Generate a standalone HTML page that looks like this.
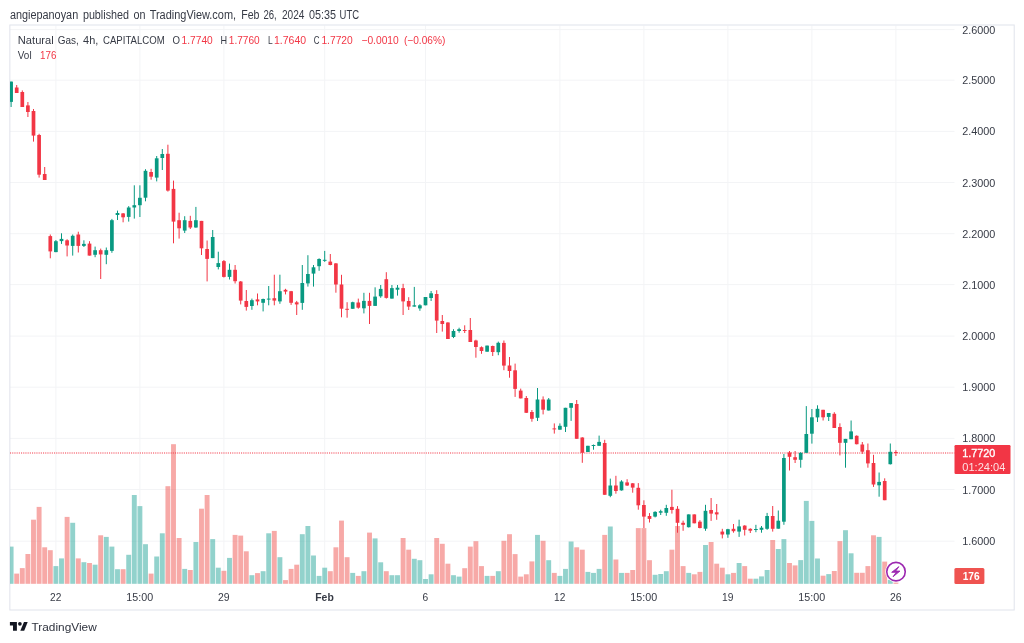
<!DOCTYPE html><html><head><meta charset="utf-8"><title>Natural Gas chart</title>
<style>html,body{margin:0;padding:0;background:#fff}body{width:1024px;height:643px;overflow:hidden}svg{display:block;will-change:transform}text{font-family:"Liberation Sans",sans-serif}</style></head><body>
<svg width="1024" height="643" viewBox="0 0 1024 643">
<rect width="1024" height="643" fill="#fff"/>
<g stroke="#f3f4f6" stroke-width="1">
<line x1="10" x2="954.5" y1="29.60" y2="29.60"/>
<line x1="10" x2="954.5" y1="80.20" y2="80.20"/>
<line x1="10" x2="954.5" y1="131.40" y2="131.40"/>
<line x1="10" x2="954.5" y1="182.50" y2="182.50"/>
<line x1="10" x2="954.5" y1="233.70" y2="233.70"/>
<line x1="10" x2="954.5" y1="284.60" y2="284.60"/>
<line x1="10" x2="954.5" y1="336.10" y2="336.10"/>
<line x1="10" x2="954.5" y1="387.20" y2="387.20"/>
<line x1="10" x2="954.5" y1="438.40" y2="438.40"/>
<line x1="10" x2="954.5" y1="489.50" y2="489.50"/>
<line x1="10" x2="954.5" y1="541.20" y2="541.20"/>
<line x1="55.90" x2="55.90" y1="25.5" y2="584"/>
<line x1="139.90" x2="139.90" y1="25.5" y2="584"/>
<line x1="223.90" x2="223.90" y1="25.5" y2="584"/>
<line x1="324.70" x2="324.70" y1="25.5" y2="584"/>
<line x1="425.50" x2="425.50" y1="25.5" y2="584"/>
<line x1="559.90" x2="559.90" y1="25.5" y2="584"/>
<line x1="643.90" x2="643.90" y1="25.5" y2="584"/>
<line x1="727.90" x2="727.90" y1="25.5" y2="584"/>
<line x1="811.90" x2="811.90" y1="25.5" y2="584"/>
<line x1="895.90" x2="895.90" y1="25.5" y2="584"/>
</g>
<rect x="9.85" y="25" width="1004.35" height="585" fill="none" stroke="#e0e3eb" stroke-width="1"/>
<g>
<rect x="10.00" y="546.6" width="3.55" height="37.2" fill="#26a69a" fill-opacity="0.5"/>
<rect x="14.25" y="573.6" width="4.90" height="10.2" fill="#ef5350" fill-opacity="0.5"/>
<rect x="19.85" y="568.1" width="4.90" height="15.7" fill="#ef5350" fill-opacity="0.5"/>
<rect x="25.45" y="554.0" width="4.90" height="29.8" fill="#ef5350" fill-opacity="0.5"/>
<rect x="31.05" y="519.7" width="4.90" height="64.1" fill="#ef5350" fill-opacity="0.5"/>
<rect x="36.65" y="506.9" width="4.90" height="76.9" fill="#ef5350" fill-opacity="0.5"/>
<rect x="42.25" y="547.3" width="4.90" height="36.5" fill="#ef5350" fill-opacity="0.5"/>
<rect x="47.85" y="550.2" width="4.90" height="33.6" fill="#ef5350" fill-opacity="0.5"/>
<rect x="53.45" y="566.1" width="4.90" height="17.7" fill="#26a69a" fill-opacity="0.5"/>
<rect x="59.05" y="558.4" width="4.90" height="25.4" fill="#26a69a" fill-opacity="0.5"/>
<rect x="64.65" y="516.9" width="4.90" height="66.9" fill="#ef5350" fill-opacity="0.5"/>
<rect x="70.25" y="522.8" width="4.90" height="61.0" fill="#26a69a" fill-opacity="0.5"/>
<rect x="75.85" y="558.4" width="4.90" height="25.4" fill="#ef5350" fill-opacity="0.5"/>
<rect x="81.45" y="562.2" width="4.90" height="21.6" fill="#26a69a" fill-opacity="0.5"/>
<rect x="87.05" y="563.0" width="4.90" height="20.8" fill="#ef5350" fill-opacity="0.5"/>
<rect x="92.65" y="564.7" width="4.90" height="19.1" fill="#26a69a" fill-opacity="0.5"/>
<rect x="98.25" y="535.3" width="4.90" height="48.5" fill="#ef5350" fill-opacity="0.5"/>
<rect x="103.85" y="536.9" width="4.90" height="46.9" fill="#26a69a" fill-opacity="0.5"/>
<rect x="109.45" y="546.6" width="4.90" height="37.2" fill="#26a69a" fill-opacity="0.5"/>
<rect x="115.05" y="569.2" width="4.90" height="14.6" fill="#26a69a" fill-opacity="0.5"/>
<rect x="120.65" y="569.2" width="4.90" height="14.6" fill="#ef5350" fill-opacity="0.5"/>
<rect x="126.25" y="554.8" width="4.90" height="29.0" fill="#26a69a" fill-opacity="0.5"/>
<rect x="131.85" y="495.0" width="4.90" height="88.8" fill="#26a69a" fill-opacity="0.5"/>
<rect x="137.45" y="506.1" width="4.90" height="77.7" fill="#26a69a" fill-opacity="0.5"/>
<rect x="143.05" y="544.2" width="4.90" height="39.6" fill="#26a69a" fill-opacity="0.5"/>
<rect x="148.65" y="573.6" width="4.90" height="10.2" fill="#ef5350" fill-opacity="0.5"/>
<rect x="154.25" y="556.5" width="4.90" height="27.3" fill="#26a69a" fill-opacity="0.5"/>
<rect x="159.85" y="533.3" width="4.90" height="50.5" fill="#26a69a" fill-opacity="0.5"/>
<rect x="165.45" y="486.2" width="4.90" height="97.6" fill="#ef5350" fill-opacity="0.5"/>
<rect x="171.05" y="444.2" width="4.90" height="139.6" fill="#ef5350" fill-opacity="0.5"/>
<rect x="176.65" y="538.0" width="4.90" height="45.8" fill="#ef5350" fill-opacity="0.5"/>
<rect x="182.25" y="568.9" width="4.90" height="14.9" fill="#26a69a" fill-opacity="0.5"/>
<rect x="187.85" y="570.0" width="4.90" height="13.8" fill="#ef5350" fill-opacity="0.5"/>
<rect x="193.45" y="542.0" width="4.90" height="41.8" fill="#26a69a" fill-opacity="0.5"/>
<rect x="199.05" y="508.7" width="4.90" height="75.1" fill="#ef5350" fill-opacity="0.5"/>
<rect x="204.65" y="495.0" width="4.90" height="88.8" fill="#ef5350" fill-opacity="0.5"/>
<rect x="210.25" y="539.1" width="4.90" height="44.7" fill="#26a69a" fill-opacity="0.5"/>
<rect x="215.85" y="567.7" width="4.90" height="16.1" fill="#26a69a" fill-opacity="0.5"/>
<rect x="221.45" y="570.8" width="4.90" height="13.0" fill="#ef5350" fill-opacity="0.5"/>
<rect x="227.05" y="557.9" width="4.90" height="25.9" fill="#26a69a" fill-opacity="0.5"/>
<rect x="232.65" y="534.9" width="4.90" height="48.9" fill="#ef5350" fill-opacity="0.5"/>
<rect x="238.25" y="535.6" width="4.90" height="48.2" fill="#ef5350" fill-opacity="0.5"/>
<rect x="243.85" y="551.3" width="4.90" height="32.5" fill="#ef5350" fill-opacity="0.5"/>
<rect x="249.45" y="575.2" width="4.90" height="8.6" fill="#26a69a" fill-opacity="0.5"/>
<rect x="255.05" y="573.1" width="4.90" height="10.7" fill="#ef5350" fill-opacity="0.5"/>
<rect x="260.65" y="571.2" width="4.90" height="12.6" fill="#26a69a" fill-opacity="0.5"/>
<rect x="266.25" y="533.3" width="4.90" height="50.5" fill="#26a69a" fill-opacity="0.5"/>
<rect x="271.85" y="530.9" width="4.90" height="52.9" fill="#ef5350" fill-opacity="0.5"/>
<rect x="277.45" y="557.2" width="4.90" height="26.6" fill="#26a69a" fill-opacity="0.5"/>
<rect x="283.05" y="580.1" width="4.90" height="3.7" fill="#ef5350" fill-opacity="0.5"/>
<rect x="288.65" y="568.9" width="4.90" height="14.9" fill="#ef5350" fill-opacity="0.5"/>
<rect x="294.25" y="564.7" width="4.90" height="19.1" fill="#ef5350" fill-opacity="0.5"/>
<rect x="299.85" y="534.2" width="4.90" height="49.6" fill="#26a69a" fill-opacity="0.5"/>
<rect x="305.45" y="526.0" width="4.90" height="57.8" fill="#26a69a" fill-opacity="0.5"/>
<rect x="311.05" y="555.5" width="4.90" height="28.3" fill="#26a69a" fill-opacity="0.5"/>
<rect x="316.65" y="575.9" width="4.90" height="7.9" fill="#26a69a" fill-opacity="0.5"/>
<rect x="322.25" y="567.7" width="4.90" height="16.1" fill="#26a69a" fill-opacity="0.5"/>
<rect x="327.85" y="571.2" width="4.90" height="12.6" fill="#ef5350" fill-opacity="0.5"/>
<rect x="333.45" y="547.3" width="4.90" height="36.5" fill="#ef5350" fill-opacity="0.5"/>
<rect x="339.05" y="520.6" width="4.90" height="63.2" fill="#ef5350" fill-opacity="0.5"/>
<rect x="344.65" y="557.2" width="4.90" height="26.6" fill="#ef5350" fill-opacity="0.5"/>
<rect x="350.25" y="572.9" width="4.90" height="10.9" fill="#26a69a" fill-opacity="0.5"/>
<rect x="355.85" y="575.9" width="4.90" height="7.9" fill="#ef5350" fill-opacity="0.5"/>
<rect x="361.45" y="571.2" width="4.90" height="12.6" fill="#26a69a" fill-opacity="0.5"/>
<rect x="367.05" y="532.6" width="4.90" height="51.2" fill="#ef5350" fill-opacity="0.5"/>
<rect x="372.65" y="538.4" width="4.90" height="45.4" fill="#26a69a" fill-opacity="0.5"/>
<rect x="378.25" y="562.3" width="4.90" height="21.5" fill="#26a69a" fill-opacity="0.5"/>
<rect x="383.85" y="571.2" width="4.90" height="12.6" fill="#ef5350" fill-opacity="0.5"/>
<rect x="389.45" y="575.2" width="4.90" height="8.6" fill="#26a69a" fill-opacity="0.5"/>
<rect x="395.05" y="575.2" width="4.90" height="8.6" fill="#26a69a" fill-opacity="0.5"/>
<rect x="400.65" y="538.0" width="4.90" height="45.8" fill="#ef5350" fill-opacity="0.5"/>
<rect x="406.25" y="549.7" width="4.90" height="34.1" fill="#ef5350" fill-opacity="0.5"/>
<rect x="411.85" y="558.8" width="4.90" height="25.0" fill="#26a69a" fill-opacity="0.5"/>
<rect x="417.45" y="560.2" width="4.90" height="23.6" fill="#26a69a" fill-opacity="0.5"/>
<rect x="423.05" y="579.0" width="4.90" height="4.8" fill="#26a69a" fill-opacity="0.5"/>
<rect x="428.65" y="574.3" width="4.90" height="9.5" fill="#26a69a" fill-opacity="0.5"/>
<rect x="434.25" y="538.0" width="4.90" height="45.8" fill="#ef5350" fill-opacity="0.5"/>
<rect x="439.85" y="543.8" width="4.90" height="40.0" fill="#ef5350" fill-opacity="0.5"/>
<rect x="445.45" y="563.7" width="4.90" height="20.1" fill="#ef5350" fill-opacity="0.5"/>
<rect x="451.05" y="575.2" width="4.90" height="8.6" fill="#26a69a" fill-opacity="0.5"/>
<rect x="456.65" y="576.6" width="4.90" height="7.2" fill="#26a69a" fill-opacity="0.5"/>
<rect x="462.25" y="568.2" width="4.90" height="15.6" fill="#ef5350" fill-opacity="0.5"/>
<rect x="467.85" y="546.6" width="4.90" height="37.2" fill="#ef5350" fill-opacity="0.5"/>
<rect x="473.45" y="541.2" width="4.90" height="42.6" fill="#ef5350" fill-opacity="0.5"/>
<rect x="479.05" y="566.1" width="4.90" height="17.7" fill="#ef5350" fill-opacity="0.5"/>
<rect x="484.65" y="575.9" width="4.90" height="7.9" fill="#26a69a" fill-opacity="0.5"/>
<rect x="490.25" y="575.9" width="4.90" height="7.9" fill="#ef5350" fill-opacity="0.5"/>
<rect x="495.85" y="571.2" width="4.90" height="12.6" fill="#26a69a" fill-opacity="0.5"/>
<rect x="501.45" y="540.8" width="4.90" height="43.0" fill="#ef5350" fill-opacity="0.5"/>
<rect x="507.05" y="534.2" width="4.90" height="49.6" fill="#ef5350" fill-opacity="0.5"/>
<rect x="512.65" y="554.1" width="4.90" height="29.7" fill="#ef5350" fill-opacity="0.5"/>
<rect x="518.25" y="576.6" width="4.90" height="7.2" fill="#ef5350" fill-opacity="0.5"/>
<rect x="523.85" y="574.3" width="4.90" height="9.5" fill="#ef5350" fill-opacity="0.5"/>
<rect x="529.45" y="561.4" width="4.90" height="22.4" fill="#ef5350" fill-opacity="0.5"/>
<rect x="535.05" y="534.9" width="4.90" height="48.9" fill="#26a69a" fill-opacity="0.5"/>
<rect x="540.65" y="540.8" width="4.90" height="43.0" fill="#ef5350" fill-opacity="0.5"/>
<rect x="546.25" y="560.2" width="4.90" height="23.6" fill="#26a69a" fill-opacity="0.5"/>
<rect x="551.85" y="572.9" width="4.90" height="10.9" fill="#ef5350" fill-opacity="0.5"/>
<rect x="557.45" y="575.9" width="4.90" height="7.9" fill="#26a69a" fill-opacity="0.5"/>
<rect x="563.05" y="568.9" width="4.90" height="14.9" fill="#26a69a" fill-opacity="0.5"/>
<rect x="568.65" y="541.5" width="4.90" height="42.3" fill="#26a69a" fill-opacity="0.5"/>
<rect x="574.25" y="547.3" width="4.90" height="36.5" fill="#ef5350" fill-opacity="0.5"/>
<rect x="579.85" y="549.7" width="4.90" height="34.1" fill="#ef5350" fill-opacity="0.5"/>
<rect x="585.45" y="571.9" width="4.90" height="11.9" fill="#26a69a" fill-opacity="0.5"/>
<rect x="591.05" y="572.9" width="4.90" height="10.9" fill="#26a69a" fill-opacity="0.5"/>
<rect x="596.65" y="568.9" width="4.90" height="14.9" fill="#26a69a" fill-opacity="0.5"/>
<rect x="602.25" y="534.9" width="4.90" height="48.9" fill="#ef5350" fill-opacity="0.5"/>
<rect x="607.85" y="526.5" width="4.90" height="57.3" fill="#26a69a" fill-opacity="0.5"/>
<rect x="613.45" y="559.5" width="4.90" height="24.3" fill="#ef5350" fill-opacity="0.5"/>
<rect x="619.05" y="572.9" width="4.90" height="10.9" fill="#26a69a" fill-opacity="0.5"/>
<rect x="624.65" y="572.9" width="4.90" height="10.9" fill="#ef5350" fill-opacity="0.5"/>
<rect x="630.25" y="570.0" width="4.90" height="13.8" fill="#ef5350" fill-opacity="0.5"/>
<rect x="635.85" y="528.1" width="4.90" height="55.7" fill="#ef5350" fill-opacity="0.5"/>
<rect x="641.45" y="528.1" width="4.90" height="55.7" fill="#ef5350" fill-opacity="0.5"/>
<rect x="647.05" y="560.2" width="4.90" height="23.6" fill="#ef5350" fill-opacity="0.5"/>
<rect x="652.65" y="574.8" width="4.90" height="9.0" fill="#26a69a" fill-opacity="0.5"/>
<rect x="658.25" y="574.0" width="4.90" height="9.8" fill="#26a69a" fill-opacity="0.5"/>
<rect x="663.85" y="571.2" width="4.90" height="12.6" fill="#26a69a" fill-opacity="0.5"/>
<rect x="669.45" y="549.7" width="4.90" height="34.1" fill="#ef5350" fill-opacity="0.5"/>
<rect x="675.05" y="526.0" width="4.90" height="57.8" fill="#ef5350" fill-opacity="0.5"/>
<rect x="680.65" y="566.1" width="4.90" height="17.7" fill="#ef5350" fill-opacity="0.5"/>
<rect x="686.25" y="572.9" width="4.90" height="10.9" fill="#26a69a" fill-opacity="0.5"/>
<rect x="691.85" y="574.3" width="4.90" height="9.5" fill="#ef5350" fill-opacity="0.5"/>
<rect x="697.45" y="571.9" width="4.90" height="11.9" fill="#ef5350" fill-opacity="0.5"/>
<rect x="703.05" y="545.0" width="4.90" height="38.8" fill="#26a69a" fill-opacity="0.5"/>
<rect x="708.65" y="542.0" width="4.90" height="41.8" fill="#ef5350" fill-opacity="0.5"/>
<rect x="714.25" y="563.7" width="4.90" height="20.1" fill="#ef5350" fill-opacity="0.5"/>
<rect x="719.85" y="567.7" width="4.90" height="16.1" fill="#ef5350" fill-opacity="0.5"/>
<rect x="725.45" y="574.3" width="4.90" height="9.5" fill="#26a69a" fill-opacity="0.5"/>
<rect x="731.05" y="572.9" width="4.90" height="10.9" fill="#ef5350" fill-opacity="0.5"/>
<rect x="736.65" y="563.0" width="4.90" height="20.8" fill="#26a69a" fill-opacity="0.5"/>
<rect x="742.25" y="566.1" width="4.90" height="17.7" fill="#ef5350" fill-opacity="0.5"/>
<rect x="747.85" y="578.7" width="4.90" height="5.1" fill="#ef5350" fill-opacity="0.5"/>
<rect x="753.45" y="578.7" width="4.90" height="5.1" fill="#26a69a" fill-opacity="0.5"/>
<rect x="759.05" y="576.4" width="4.90" height="7.4" fill="#26a69a" fill-opacity="0.5"/>
<rect x="764.65" y="570.0" width="4.90" height="13.8" fill="#26a69a" fill-opacity="0.5"/>
<rect x="770.25" y="540.0" width="4.90" height="43.8" fill="#ef5350" fill-opacity="0.5"/>
<rect x="775.85" y="549.0" width="4.90" height="34.8" fill="#26a69a" fill-opacity="0.5"/>
<rect x="781.45" y="539.1" width="4.90" height="44.7" fill="#26a69a" fill-opacity="0.5"/>
<rect x="787.05" y="563.0" width="4.90" height="20.8" fill="#ef5350" fill-opacity="0.5"/>
<rect x="792.65" y="565.4" width="4.90" height="18.4" fill="#ef5350" fill-opacity="0.5"/>
<rect x="798.25" y="560.1" width="4.90" height="23.7" fill="#26a69a" fill-opacity="0.5"/>
<rect x="803.85" y="500.9" width="4.90" height="82.9" fill="#26a69a" fill-opacity="0.5"/>
<rect x="809.45" y="520.9" width="4.90" height="62.9" fill="#26a69a" fill-opacity="0.5"/>
<rect x="815.05" y="558.5" width="4.90" height="25.3" fill="#26a69a" fill-opacity="0.5"/>
<rect x="820.65" y="575.7" width="4.90" height="8.1" fill="#ef5350" fill-opacity="0.5"/>
<rect x="826.25" y="574.1" width="4.90" height="9.7" fill="#26a69a" fill-opacity="0.5"/>
<rect x="831.85" y="571.0" width="4.90" height="12.8" fill="#ef5350" fill-opacity="0.5"/>
<rect x="837.45" y="541.1" width="4.90" height="42.7" fill="#ef5350" fill-opacity="0.5"/>
<rect x="843.05" y="530.2" width="4.90" height="53.6" fill="#26a69a" fill-opacity="0.5"/>
<rect x="848.65" y="553.3" width="4.90" height="30.5" fill="#26a69a" fill-opacity="0.5"/>
<rect x="854.25" y="572.8" width="4.90" height="11.0" fill="#ef5350" fill-opacity="0.5"/>
<rect x="859.85" y="572.8" width="4.90" height="11.0" fill="#ef5350" fill-opacity="0.5"/>
<rect x="865.45" y="566.1" width="4.90" height="17.7" fill="#ef5350" fill-opacity="0.5"/>
<rect x="871.05" y="535.3" width="4.90" height="48.5" fill="#ef5350" fill-opacity="0.5"/>
<rect x="876.65" y="536.9" width="4.90" height="46.9" fill="#26a69a" fill-opacity="0.5"/>
<rect x="882.25" y="561.6" width="4.90" height="22.2" fill="#ef5350" fill-opacity="0.5"/>
<rect x="887.85" y="579.8" width="4.90" height="4.0" fill="#26a69a" fill-opacity="0.5"/>
<rect x="893.45" y="582.5" width="4.90" height="1.3" fill="#ef5350" fill-opacity="0.5"/>
</g>
<line x1="10" x2="954.5" y1="452.9" y2="452.9" stroke="#f23645" stroke-width="1.5" stroke-opacity="0.65" stroke-dasharray="1.1 1.1"/>
<g>
<rect x="10.60" y="81.6" width="1" height="25.4" fill="#089981"/>
<rect x="10.00" y="81.6" width="2.95" height="20.3" fill="#089981"/>
<rect x="16.20" y="85.0" width="1" height="8.0" fill="#f23645"/>
<rect x="14.85" y="87.5" width="3.70" height="5.5" fill="#f23645"/>
<rect x="21.80" y="90.4" width="1" height="16.6" fill="#f23645"/>
<rect x="20.45" y="92.0" width="3.70" height="15.0" fill="#f23645"/>
<rect x="27.40" y="102.0" width="1" height="15.0" fill="#f23645"/>
<rect x="26.05" y="105.4" width="3.70" height="6.6" fill="#f23645"/>
<rect x="33.00" y="109.0" width="1" height="32.6" fill="#f23645"/>
<rect x="31.65" y="111.0" width="3.70" height="24.6" fill="#f23645"/>
<rect x="38.60" y="133.8" width="1" height="43.8" fill="#f23645"/>
<rect x="37.25" y="135.0" width="3.70" height="39.7" fill="#f23645"/>
<rect x="44.20" y="167.0" width="1" height="13.0" fill="#f23645"/>
<rect x="42.85" y="174.0" width="3.70" height="6.0" fill="#f23645"/>
<rect x="49.80" y="234.5" width="1" height="23.8" fill="#f23645"/>
<rect x="48.45" y="236.1" width="3.70" height="15.3" fill="#f23645"/>
<rect x="55.40" y="240.0" width="1" height="12.2" fill="#089981"/>
<rect x="54.05" y="241.2" width="3.70" height="10.9" fill="#089981"/>
<rect x="61.00" y="233.3" width="1" height="10.6" fill="#089981"/>
<rect x="59.65" y="238.9" width="3.70" height="2.2" fill="#089981"/>
<rect x="66.60" y="239.2" width="1" height="17.2" fill="#f23645"/>
<rect x="65.25" y="240.3" width="3.70" height="5.2" fill="#f23645"/>
<rect x="72.20" y="234.5" width="1" height="21.1" fill="#089981"/>
<rect x="70.85" y="235.8" width="3.70" height="10.1" fill="#089981"/>
<rect x="77.80" y="231.7" width="1" height="20.8" fill="#f23645"/>
<rect x="76.45" y="234.5" width="3.70" height="11.4" fill="#f23645"/>
<rect x="83.40" y="240.3" width="1" height="6.7" fill="#089981"/>
<rect x="82.05" y="243.9" width="3.70" height="2.0" fill="#089981"/>
<rect x="89.00" y="241.2" width="1" height="14.3" fill="#f23645"/>
<rect x="87.65" y="243.6" width="3.70" height="12.0" fill="#f23645"/>
<rect x="94.60" y="246.6" width="1" height="10.6" fill="#089981"/>
<rect x="93.25" y="250.2" width="3.70" height="4.6" fill="#089981"/>
<rect x="100.20" y="248.6" width="1" height="30.4" fill="#f23645"/>
<rect x="98.85" y="250.2" width="3.70" height="4.2" fill="#f23645"/>
<rect x="105.80" y="247.5" width="1" height="16.7" fill="#089981"/>
<rect x="104.45" y="250.2" width="3.70" height="4.6" fill="#089981"/>
<rect x="111.40" y="218.9" width="1" height="33.9" fill="#089981"/>
<rect x="110.05" y="220.2" width="3.70" height="30.7" fill="#089981"/>
<rect x="117.00" y="210.6" width="1" height="9.4" fill="#089981"/>
<rect x="115.65" y="213.0" width="3.70" height="2.0" fill="#089981"/>
<rect x="122.60" y="213.0" width="1" height="9.3" fill="#f23645"/>
<rect x="121.25" y="213.4" width="3.70" height="3.9" fill="#f23645"/>
<rect x="128.20" y="206.1" width="1" height="15.5" fill="#089981"/>
<rect x="126.85" y="207.5" width="3.70" height="9.4" fill="#089981"/>
<rect x="133.80" y="185.3" width="1" height="33.3" fill="#089981"/>
<rect x="132.45" y="205.2" width="3.70" height="2.3" fill="#089981"/>
<rect x="139.40" y="185.3" width="1" height="31.7" fill="#089981"/>
<rect x="138.05" y="197.8" width="3.70" height="7.4" fill="#089981"/>
<rect x="145.00" y="169.2" width="1" height="32.1" fill="#089981"/>
<rect x="143.65" y="170.8" width="3.70" height="26.9" fill="#089981"/>
<rect x="150.60" y="168.8" width="1" height="10.9" fill="#f23645"/>
<rect x="149.25" y="172.0" width="3.70" height="4.7" fill="#f23645"/>
<rect x="156.20" y="156.0" width="1" height="25.4" fill="#089981"/>
<rect x="154.85" y="158.3" width="3.70" height="19.3" fill="#089981"/>
<rect x="161.80" y="149.0" width="1" height="21.0" fill="#089981"/>
<rect x="160.45" y="154.0" width="3.70" height="4.0" fill="#089981"/>
<rect x="167.40" y="144.7" width="1" height="46.9" fill="#f23645"/>
<rect x="166.05" y="153.8" width="3.70" height="36.8" fill="#f23645"/>
<rect x="173.00" y="180.6" width="1" height="62.7" fill="#f23645"/>
<rect x="171.65" y="188.9" width="3.70" height="32.7" fill="#f23645"/>
<rect x="178.60" y="212.7" width="1" height="25.9" fill="#f23645"/>
<rect x="177.25" y="220.2" width="3.70" height="8.1" fill="#f23645"/>
<rect x="184.20" y="216.2" width="1" height="16.8" fill="#089981"/>
<rect x="182.85" y="220.2" width="3.70" height="10.4" fill="#089981"/>
<rect x="189.80" y="215.8" width="1" height="13.2" fill="#f23645"/>
<rect x="188.45" y="220.9" width="3.70" height="6.6" fill="#f23645"/>
<rect x="195.40" y="206.9" width="1" height="20.9" fill="#089981"/>
<rect x="194.05" y="220.2" width="3.70" height="7.3" fill="#089981"/>
<rect x="201.00" y="220.9" width="1" height="34.1" fill="#f23645"/>
<rect x="199.65" y="220.9" width="3.70" height="27.4" fill="#f23645"/>
<rect x="206.60" y="240.5" width="1" height="40.9" fill="#f23645"/>
<rect x="205.25" y="249.0" width="3.70" height="9.9" fill="#f23645"/>
<rect x="212.20" y="230.0" width="1" height="28.1" fill="#089981"/>
<rect x="210.85" y="237.0" width="3.70" height="21.1" fill="#089981"/>
<rect x="217.80" y="251.7" width="1" height="17.7" fill="#089981"/>
<rect x="216.45" y="263.1" width="3.70" height="3.9" fill="#089981"/>
<rect x="223.40" y="260.0" width="1" height="17.5" fill="#f23645"/>
<rect x="222.05" y="261.1" width="3.70" height="15.8" fill="#f23645"/>
<rect x="229.00" y="263.6" width="1" height="15.9" fill="#089981"/>
<rect x="227.65" y="269.8" width="3.70" height="7.1" fill="#089981"/>
<rect x="234.60" y="265.0" width="1" height="18.5" fill="#f23645"/>
<rect x="233.25" y="269.8" width="3.70" height="11.4" fill="#f23645"/>
<rect x="240.20" y="281.0" width="1" height="23.4" fill="#f23645"/>
<rect x="238.85" y="281.5" width="3.70" height="19.1" fill="#f23645"/>
<rect x="245.80" y="290.0" width="1" height="20.6" fill="#f23645"/>
<rect x="244.45" y="301.0" width="3.70" height="5.9" fill="#f23645"/>
<rect x="251.40" y="298.6" width="1" height="11.2" fill="#089981"/>
<rect x="250.05" y="300.2" width="3.70" height="5.8" fill="#089981"/>
<rect x="257.00" y="293.5" width="1" height="11.8" fill="#f23645"/>
<rect x="255.65" y="299.4" width="3.70" height="2.0" fill="#f23645"/>
<rect x="262.60" y="298.6" width="1" height="12.8" fill="#089981"/>
<rect x="261.25" y="299.0" width="3.70" height="3.8" fill="#089981"/>
<rect x="268.20" y="286.0" width="1" height="19.3" fill="#089981"/>
<rect x="266.85" y="298.6" width="3.70" height="1.0" fill="#089981"/>
<rect x="273.80" y="274.7" width="1" height="30.6" fill="#f23645"/>
<rect x="272.45" y="298.2" width="3.70" height="2.4" fill="#f23645"/>
<rect x="279.40" y="274.7" width="1" height="29.1" fill="#089981"/>
<rect x="278.05" y="291.2" width="3.70" height="10.2" fill="#089981"/>
<rect x="285.00" y="288.8" width="1" height="5.6" fill="#f23645"/>
<rect x="283.65" y="289.8" width="3.70" height="1.8" fill="#f23645"/>
<rect x="290.60" y="290.9" width="1" height="14.0" fill="#f23645"/>
<rect x="289.25" y="291.2" width="3.70" height="11.6" fill="#f23645"/>
<rect x="296.20" y="300.9" width="1" height="14.1" fill="#f23645"/>
<rect x="294.85" y="302.3" width="3.70" height="2.1" fill="#f23645"/>
<rect x="301.80" y="265.0" width="1" height="44.8" fill="#089981"/>
<rect x="300.45" y="283.0" width="3.70" height="19.9" fill="#089981"/>
<rect x="307.40" y="255.2" width="1" height="31.4" fill="#089981"/>
<rect x="306.05" y="274.0" width="3.70" height="9.4" fill="#089981"/>
<rect x="313.00" y="265.0" width="1" height="21.6" fill="#089981"/>
<rect x="311.65" y="267.3" width="3.70" height="6.3" fill="#089981"/>
<rect x="318.60" y="258.3" width="1" height="12.5" fill="#089981"/>
<rect x="317.25" y="259.0" width="3.70" height="7.2" fill="#089981"/>
<rect x="324.20" y="250.9" width="1" height="11.0" fill="#089981"/>
<rect x="322.85" y="259.8" width="3.70" height="1.0" fill="#089981"/>
<rect x="329.80" y="254.0" width="1" height="11.3" fill="#f23645"/>
<rect x="328.45" y="261.6" width="3.70" height="3.4" fill="#f23645"/>
<rect x="335.40" y="263.0" width="1" height="29.7" fill="#f23645"/>
<rect x="334.05" y="263.4" width="3.70" height="21.1" fill="#f23645"/>
<rect x="341.00" y="274.8" width="1" height="42.5" fill="#f23645"/>
<rect x="339.65" y="284.5" width="3.70" height="24.2" fill="#f23645"/>
<rect x="346.60" y="302.2" width="1" height="15.5" fill="#f23645"/>
<rect x="345.25" y="308.8" width="3.70" height="1.0" fill="#f23645"/>
<rect x="352.20" y="301.7" width="1" height="7.1" fill="#089981"/>
<rect x="350.85" y="302.2" width="3.70" height="6.6" fill="#089981"/>
<rect x="357.80" y="298.6" width="1" height="10.1" fill="#f23645"/>
<rect x="356.45" y="302.5" width="3.70" height="5.2" fill="#f23645"/>
<rect x="363.40" y="292.8" width="1" height="20.6" fill="#089981"/>
<rect x="362.05" y="300.9" width="3.70" height="7.4" fill="#089981"/>
<rect x="369.00" y="292.8" width="1" height="31.2" fill="#f23645"/>
<rect x="367.65" y="300.9" width="3.70" height="5.0" fill="#f23645"/>
<rect x="374.60" y="287.3" width="1" height="18.6" fill="#089981"/>
<rect x="373.25" y="296.6" width="3.70" height="9.3" fill="#089981"/>
<rect x="380.20" y="285.0" width="1" height="12.8" fill="#089981"/>
<rect x="378.85" y="288.9" width="3.70" height="7.4" fill="#089981"/>
<rect x="385.80" y="272.2" width="1" height="26.4" fill="#f23645"/>
<rect x="384.45" y="279.2" width="3.70" height="18.7" fill="#f23645"/>
<rect x="391.40" y="285.0" width="1" height="13.6" fill="#089981"/>
<rect x="390.05" y="288.1" width="3.70" height="10.5" fill="#089981"/>
<rect x="397.00" y="285.0" width="1" height="10.6" fill="#089981"/>
<rect x="395.65" y="287.7" width="3.70" height="2.0" fill="#089981"/>
<rect x="402.60" y="283.8" width="1" height="31.2" fill="#f23645"/>
<rect x="401.25" y="288.1" width="3.70" height="13.3" fill="#f23645"/>
<rect x="408.20" y="297.2" width="1" height="12.8" fill="#f23645"/>
<rect x="406.85" y="301.0" width="3.70" height="5.6" fill="#f23645"/>
<rect x="413.80" y="286.9" width="1" height="19.7" fill="#089981"/>
<rect x="412.45" y="305.3" width="3.70" height="1.3" fill="#089981"/>
<rect x="419.40" y="304.2" width="1" height="6.6" fill="#089981"/>
<rect x="418.05" y="305.3" width="3.70" height="3.1" fill="#089981"/>
<rect x="425.00" y="297.0" width="1" height="8.3" fill="#089981"/>
<rect x="423.65" y="297.0" width="3.70" height="8.3" fill="#089981"/>
<rect x="430.60" y="291.0" width="1" height="10.0" fill="#089981"/>
<rect x="429.25" y="293.3" width="3.70" height="4.7" fill="#089981"/>
<rect x="436.20" y="290.2" width="1" height="42.8" fill="#f23645"/>
<rect x="434.85" y="294.0" width="3.70" height="26.6" fill="#f23645"/>
<rect x="441.80" y="315.0" width="1" height="16.6" fill="#f23645"/>
<rect x="440.45" y="321.0" width="3.70" height="3.0" fill="#f23645"/>
<rect x="447.40" y="322.2" width="1" height="16.8" fill="#f23645"/>
<rect x="446.05" y="322.5" width="3.70" height="16.5" fill="#f23645"/>
<rect x="453.00" y="329.2" width="1" height="8.9" fill="#089981"/>
<rect x="451.65" y="331.0" width="3.70" height="6.0" fill="#089981"/>
<rect x="458.60" y="327.7" width="1" height="5.0" fill="#089981"/>
<rect x="457.25" y="329.2" width="3.70" height="1.8" fill="#089981"/>
<rect x="464.20" y="325.3" width="1" height="7.7" fill="#f23645"/>
<rect x="462.85" y="330.0" width="3.70" height="1.0" fill="#f23645"/>
<rect x="469.80" y="318.0" width="1" height="24.0" fill="#f23645"/>
<rect x="468.45" y="330.0" width="3.70" height="12.0" fill="#f23645"/>
<rect x="475.40" y="339.7" width="1" height="18.0" fill="#f23645"/>
<rect x="474.05" y="340.5" width="3.70" height="6.5" fill="#f23645"/>
<rect x="481.00" y="346.4" width="1" height="7.4" fill="#f23645"/>
<rect x="479.65" y="347.2" width="3.70" height="3.8" fill="#f23645"/>
<rect x="486.60" y="345.6" width="1" height="6.1" fill="#089981"/>
<rect x="485.25" y="345.6" width="3.70" height="6.1" fill="#089981"/>
<rect x="492.20" y="345.6" width="1" height="10.4" fill="#f23645"/>
<rect x="490.85" y="346.0" width="3.70" height="6.0" fill="#f23645"/>
<rect x="497.80" y="341.6" width="1" height="13.6" fill="#089981"/>
<rect x="496.45" y="342.8" width="3.70" height="9.4" fill="#089981"/>
<rect x="503.40" y="340.5" width="1" height="29.7" fill="#f23645"/>
<rect x="502.05" y="342.9" width="3.70" height="22.7" fill="#f23645"/>
<rect x="509.00" y="357.0" width="1" height="20.7" fill="#f23645"/>
<rect x="507.65" y="365.5" width="3.70" height="5.5" fill="#f23645"/>
<rect x="514.60" y="363.6" width="1" height="33.3" fill="#f23645"/>
<rect x="513.25" y="370.3" width="3.70" height="18.6" fill="#f23645"/>
<rect x="520.20" y="388.6" width="1" height="9.8" fill="#f23645"/>
<rect x="518.85" y="390.6" width="3.70" height="7.8" fill="#f23645"/>
<rect x="525.80" y="396.0" width="1" height="17.0" fill="#f23645"/>
<rect x="524.45" y="398.0" width="3.70" height="14.8" fill="#f23645"/>
<rect x="531.40" y="410.0" width="1" height="11.7" fill="#f23645"/>
<rect x="530.05" y="412.0" width="3.70" height="6.8" fill="#f23645"/>
<rect x="537.00" y="388.0" width="1" height="33.0" fill="#089981"/>
<rect x="535.65" y="399.5" width="3.70" height="18.3" fill="#089981"/>
<rect x="542.60" y="396.4" width="1" height="18.0" fill="#f23645"/>
<rect x="541.25" y="399.5" width="3.70" height="10.2" fill="#f23645"/>
<rect x="548.20" y="398.0" width="1" height="12.5" fill="#089981"/>
<rect x="546.85" y="399.5" width="3.70" height="11.0" fill="#089981"/>
<rect x="553.80" y="423.4" width="1" height="10.2" fill="#f23645"/>
<rect x="552.45" y="428.4" width="3.70" height="1.0" fill="#f23645"/>
<rect x="559.40" y="423.4" width="1" height="6.3" fill="#089981"/>
<rect x="558.05" y="425.8" width="3.70" height="3.9" fill="#089981"/>
<rect x="565.00" y="407.8" width="1" height="24.2" fill="#089981"/>
<rect x="563.65" y="407.8" width="3.70" height="19.0" fill="#089981"/>
<rect x="570.60" y="403.1" width="1" height="17.8" fill="#089981"/>
<rect x="569.25" y="403.1" width="3.70" height="4.7" fill="#089981"/>
<rect x="576.20" y="400.0" width="1" height="38.8" fill="#f23645"/>
<rect x="574.85" y="404.0" width="3.70" height="34.8" fill="#f23645"/>
<rect x="581.80" y="437.2" width="1" height="25.6" fill="#f23645"/>
<rect x="580.45" y="437.5" width="3.70" height="15.3" fill="#f23645"/>
<rect x="587.40" y="445.8" width="1" height="6.2" fill="#089981"/>
<rect x="586.05" y="445.8" width="3.70" height="6.2" fill="#089981"/>
<rect x="593.00" y="444.5" width="1" height="5.2" fill="#089981"/>
<rect x="591.65" y="445.0" width="3.70" height="1.0" fill="#089981"/>
<rect x="598.60" y="435.6" width="1" height="10.2" fill="#089981"/>
<rect x="597.25" y="441.9" width="3.70" height="3.9" fill="#089981"/>
<rect x="604.20" y="439.8" width="1" height="55.0" fill="#f23645"/>
<rect x="602.85" y="443.0" width="3.70" height="51.8" fill="#f23645"/>
<rect x="609.80" y="478.6" width="1" height="18.6" fill="#089981"/>
<rect x="608.45" y="485.5" width="3.70" height="10.3" fill="#089981"/>
<rect x="615.40" y="475.8" width="1" height="17.9" fill="#f23645"/>
<rect x="614.05" y="485.5" width="3.70" height="5.5" fill="#f23645"/>
<rect x="621.00" y="480.2" width="1" height="10.4" fill="#089981"/>
<rect x="619.65" y="481.5" width="3.70" height="8.9" fill="#089981"/>
<rect x="626.60" y="479.2" width="1" height="6.8" fill="#f23645"/>
<rect x="625.25" y="482.4" width="3.70" height="3.1" fill="#f23645"/>
<rect x="632.20" y="483.1" width="1" height="9.6" fill="#f23645"/>
<rect x="630.85" y="483.3" width="3.70" height="4.3" fill="#f23645"/>
<rect x="637.80" y="483.1" width="1" height="26.6" fill="#f23645"/>
<rect x="636.45" y="487.8" width="3.70" height="17.5" fill="#f23645"/>
<rect x="643.40" y="500.3" width="1" height="27.7" fill="#f23645"/>
<rect x="642.05" y="505.0" width="3.70" height="11.6" fill="#f23645"/>
<rect x="649.00" y="513.1" width="1" height="9.4" fill="#f23645"/>
<rect x="647.65" y="516.0" width="3.70" height="2.9" fill="#f23645"/>
<rect x="654.60" y="511.2" width="1" height="6.2" fill="#089981"/>
<rect x="653.25" y="511.9" width="3.70" height="4.7" fill="#089981"/>
<rect x="660.20" y="509.7" width="1" height="5.3" fill="#089981"/>
<rect x="658.85" y="511.2" width="3.70" height="1.5" fill="#089981"/>
<rect x="665.80" y="504.8" width="1" height="11.0" fill="#089981"/>
<rect x="664.45" y="508.0" width="3.70" height="4.8" fill="#089981"/>
<rect x="671.40" y="489.7" width="1" height="23.9" fill="#f23645"/>
<rect x="670.05" y="506.9" width="3.70" height="3.1" fill="#f23645"/>
<rect x="677.00" y="506.1" width="1" height="26.6" fill="#f23645"/>
<rect x="675.65" y="508.8" width="3.70" height="14.0" fill="#f23645"/>
<rect x="682.60" y="520.6" width="1" height="10.2" fill="#f23645"/>
<rect x="681.25" y="522.8" width="3.70" height="2.0" fill="#f23645"/>
<rect x="688.20" y="514.4" width="1" height="13.1" fill="#089981"/>
<rect x="686.85" y="514.4" width="3.70" height="12.8" fill="#089981"/>
<rect x="693.80" y="514.4" width="1" height="8.9" fill="#f23645"/>
<rect x="692.45" y="514.4" width="3.70" height="8.9" fill="#f23645"/>
<rect x="699.40" y="520.2" width="1" height="8.2" fill="#f23645"/>
<rect x="698.05" y="521.7" width="3.70" height="6.3" fill="#f23645"/>
<rect x="705.00" y="504.8" width="1" height="26.0" fill="#089981"/>
<rect x="703.65" y="510.8" width="3.70" height="17.9" fill="#089981"/>
<rect x="710.60" y="498.0" width="1" height="22.9" fill="#f23645"/>
<rect x="709.25" y="510.0" width="3.70" height="3.6" fill="#f23645"/>
<rect x="716.20" y="504.0" width="1" height="15.8" fill="#f23645"/>
<rect x="714.85" y="512.3" width="3.70" height="2.1" fill="#f23645"/>
<rect x="721.80" y="528.8" width="1" height="9.6" fill="#f23645"/>
<rect x="720.45" y="531.6" width="3.70" height="2.9" fill="#f23645"/>
<rect x="727.40" y="528.8" width="1" height="9.0" fill="#089981"/>
<rect x="726.05" y="529.2" width="3.70" height="5.3" fill="#089981"/>
<rect x="733.00" y="524.0" width="1" height="8.7" fill="#f23645"/>
<rect x="731.65" y="528.8" width="3.70" height="2.4" fill="#f23645"/>
<rect x="738.60" y="519.7" width="1" height="17.2" fill="#089981"/>
<rect x="737.25" y="526.4" width="3.70" height="5.2" fill="#089981"/>
<rect x="744.20" y="525.2" width="1" height="10.3" fill="#f23645"/>
<rect x="742.85" y="525.6" width="3.70" height="4.2" fill="#f23645"/>
<rect x="749.80" y="528.3" width="1" height="4.7" fill="#f23645"/>
<rect x="748.45" y="528.8" width="3.70" height="1.9" fill="#f23645"/>
<rect x="755.40" y="524.8" width="1" height="7.4" fill="#089981"/>
<rect x="754.05" y="529.0" width="3.70" height="1.0" fill="#089981"/>
<rect x="761.00" y="526.0" width="1" height="6.7" fill="#089981"/>
<rect x="759.65" y="527.7" width="3.70" height="2.1" fill="#089981"/>
<rect x="766.60" y="512.9" width="1" height="16.9" fill="#089981"/>
<rect x="765.25" y="516.0" width="3.70" height="12.8" fill="#089981"/>
<rect x="772.20" y="506.0" width="1" height="25.6" fill="#f23645"/>
<rect x="770.85" y="516.0" width="3.70" height="12.8" fill="#f23645"/>
<rect x="777.80" y="510.5" width="1" height="18.2" fill="#089981"/>
<rect x="776.45" y="520.7" width="3.70" height="8.0" fill="#089981"/>
<rect x="783.40" y="454.0" width="1" height="70.8" fill="#089981"/>
<rect x="782.05" y="458.0" width="3.70" height="63.7" fill="#089981"/>
<rect x="789.00" y="451.0" width="1" height="19.5" fill="#f23645"/>
<rect x="787.65" y="452.4" width="3.70" height="4.4" fill="#f23645"/>
<rect x="794.60" y="451.0" width="1" height="12.0" fill="#f23645"/>
<rect x="793.25" y="457.2" width="3.70" height="2.6" fill="#f23645"/>
<rect x="800.20" y="452.2" width="1" height="15.5" fill="#089981"/>
<rect x="798.85" y="452.8" width="3.70" height="7.0" fill="#089981"/>
<rect x="805.80" y="406.1" width="1" height="46.7" fill="#089981"/>
<rect x="804.45" y="434.0" width="3.70" height="18.8" fill="#089981"/>
<rect x="811.40" y="409.0" width="1" height="34.6" fill="#089981"/>
<rect x="810.05" y="417.3" width="3.70" height="16.4" fill="#089981"/>
<rect x="817.00" y="405.3" width="1" height="16.7" fill="#089981"/>
<rect x="815.65" y="408.8" width="3.70" height="8.6" fill="#089981"/>
<rect x="822.60" y="409.8" width="1" height="10.7" fill="#f23645"/>
<rect x="821.25" y="409.8" width="3.70" height="7.5" fill="#f23645"/>
<rect x="828.20" y="413.0" width="1" height="8.0" fill="#089981"/>
<rect x="826.85" y="413.0" width="3.70" height="3.9" fill="#089981"/>
<rect x="833.80" y="412.2" width="1" height="15.8" fill="#f23645"/>
<rect x="832.45" y="413.8" width="3.70" height="14.2" fill="#f23645"/>
<rect x="839.40" y="423.3" width="1" height="32.1" fill="#f23645"/>
<rect x="838.05" y="427.0" width="3.70" height="15.8" fill="#f23645"/>
<rect x="845.00" y="438.9" width="1" height="28.8" fill="#089981"/>
<rect x="843.65" y="438.9" width="3.70" height="3.9" fill="#089981"/>
<rect x="850.60" y="420.5" width="1" height="18.7" fill="#089981"/>
<rect x="849.25" y="431.4" width="3.70" height="7.8" fill="#089981"/>
<rect x="856.20" y="435.3" width="1" height="9.1" fill="#f23645"/>
<rect x="854.85" y="435.8" width="3.70" height="8.4" fill="#f23645"/>
<rect x="861.80" y="442.0" width="1" height="11.9" fill="#f23645"/>
<rect x="860.45" y="444.5" width="3.70" height="7.2" fill="#f23645"/>
<rect x="867.40" y="443.5" width="1" height="24.2" fill="#f23645"/>
<rect x="866.05" y="450.2" width="3.70" height="13.2" fill="#f23645"/>
<rect x="873.00" y="454.8" width="1" height="32.1" fill="#f23645"/>
<rect x="871.65" y="463.0" width="3.70" height="21.5" fill="#f23645"/>
<rect x="878.60" y="472.5" width="1" height="24.2" fill="#089981"/>
<rect x="877.25" y="481.9" width="3.70" height="3.4" fill="#089981"/>
<rect x="884.20" y="478.3" width="1" height="21.9" fill="#f23645"/>
<rect x="882.85" y="481.0" width="3.70" height="19.2" fill="#f23645"/>
<rect x="889.80" y="443.5" width="1" height="21.0" fill="#089981"/>
<rect x="888.45" y="451.8" width="3.70" height="12.4" fill="#089981"/>
<rect x="895.40" y="450.2" width="1" height="5.8" fill="#f23645"/>
<rect x="894.05" y="452.0" width="3.70" height="1.0" fill="#f23645"/>
</g>
<g transform="translate(896 571.65)"><circle r="10.7" fill="#fff"/><circle r="9.25" fill="#fff" stroke="#9c27b0" stroke-width="1.6"/><path d="M2.9 -5 L-4.3 0.65 L0.25 0.65 L-3 5.1 L3.95 -0.55 L-0.3 -0.55 Z" fill="#9c27b0" stroke="#9c27b0" stroke-width="0.9" stroke-linejoin="round"/></g>
<g opacity="0.999">
<text x="962.3" y="33.9" font-size="11.3" fill="#363a45" textLength="33.10" lengthAdjust="spacingAndGlyphs">2.6000</text>
<text x="962.3" y="84.2" font-size="11.3" fill="#363a45" textLength="33.10" lengthAdjust="spacingAndGlyphs">2.5000</text>
<text x="962.3" y="135.4" font-size="11.3" fill="#363a45" textLength="33.10" lengthAdjust="spacingAndGlyphs">2.4000</text>
<text x="962.3" y="186.5" font-size="11.3" fill="#363a45" textLength="33.10" lengthAdjust="spacingAndGlyphs">2.3000</text>
<text x="962.3" y="237.7" font-size="11.3" fill="#363a45" textLength="33.10" lengthAdjust="spacingAndGlyphs">2.2000</text>
<text x="962.3" y="288.6" font-size="11.3" fill="#363a45" textLength="33.10" lengthAdjust="spacingAndGlyphs">2.1000</text>
<text x="962.3" y="340.1" font-size="11.3" fill="#363a45" textLength="33.10" lengthAdjust="spacingAndGlyphs">2.0000</text>
<text x="962.3" y="391.2" font-size="11.3" fill="#363a45" textLength="33.10" lengthAdjust="spacingAndGlyphs">1.9000</text>
<text x="962.3" y="442.4" font-size="11.3" fill="#363a45" textLength="33.10" lengthAdjust="spacingAndGlyphs">1.8000</text>
<text x="962.3" y="493.5" font-size="11.3" fill="#363a45" textLength="33.10" lengthAdjust="spacingAndGlyphs">1.7000</text>
<text x="962.3" y="545.2" font-size="11.3" fill="#363a45" textLength="33.10" lengthAdjust="spacingAndGlyphs">1.6000</text>
<rect x="954.5" y="445" width="56" height="29" rx="1.2" fill="#f23645"/>
<text x="962.3" y="457.2" font-size="11.3" fill="#fff" textLength="33.10" lengthAdjust="spacingAndGlyphs" stroke="#fff" stroke-width="0.35">1.7720</text>
<text x="962.3" y="470.8" font-size="11.3" fill="#fff" textLength="43.10" lengthAdjust="spacingAndGlyphs" fill-opacity="0.85">01:24:04</text>
<rect x="954.4" y="568.1" width="30" height="15.9" rx="1.5" fill="#ef5350"/>
<text x="962.7" y="579.9" font-size="11.3" fill="#fff" textLength="17.00" lengthAdjust="spacingAndGlyphs" font-weight="bold">176</text>
<text x="50.05" y="601.3" font-size="11.3" fill="#363a45" textLength="11.30" lengthAdjust="spacingAndGlyphs">22</text>
<text x="126.3" y="601.3" font-size="11.3" fill="#363a45" textLength="26.80" lengthAdjust="spacingAndGlyphs">15:00</text>
<text x="217.9" y="601.3" font-size="11.3" fill="#363a45" textLength="11.60" lengthAdjust="spacingAndGlyphs">29</text>
<text x="315.25" y="601.3" font-size="11.3" fill="#363a45" textLength="18.50" lengthAdjust="spacingAndGlyphs" font-weight="bold">Feb</text>
<text x="422.45" y="601.3" font-size="11.3" fill="#363a45" textLength="5.70" lengthAdjust="spacingAndGlyphs">6</text>
<text x="554.05" y="601.3" font-size="11.3" fill="#363a45" textLength="11.30" lengthAdjust="spacingAndGlyphs">12</text>
<text x="630.3" y="601.3" font-size="11.3" fill="#363a45" textLength="26.80" lengthAdjust="spacingAndGlyphs">15:00</text>
<text x="722.0" y="601.3" font-size="11.3" fill="#363a45" textLength="11.40" lengthAdjust="spacingAndGlyphs">19</text>
<text x="798.3" y="601.3" font-size="11.3" fill="#363a45" textLength="26.80" lengthAdjust="spacingAndGlyphs">15:00</text>
<text x="889.9" y="601.3" font-size="11.3" fill="#363a45" textLength="11.60" lengthAdjust="spacingAndGlyphs">26</text>
<text x="9.9" y="18.7" font-size="12" fill="#363a45" textLength="68.30" lengthAdjust="spacingAndGlyphs">angiepanoyan</text>
<text x="82.9" y="18.7" font-size="12" fill="#363a45" textLength="46.10" lengthAdjust="spacingAndGlyphs">published</text>
<text x="133.4" y="18.7" font-size="12" fill="#363a45" textLength="12.00" lengthAdjust="spacingAndGlyphs">on</text>
<text x="149.7" y="18.7" font-size="12" fill="#363a45" textLength="86.40" lengthAdjust="spacingAndGlyphs">TradingView.com,</text>
<text x="241.25" y="18.7" font-size="12" fill="#363a45" textLength="18.25" lengthAdjust="spacingAndGlyphs">Feb</text>
<text x="263.4" y="18.7" font-size="12" fill="#363a45" textLength="13.30" lengthAdjust="spacingAndGlyphs">26,</text>
<text x="281.9" y="18.7" font-size="12" fill="#363a45" textLength="22.50" lengthAdjust="spacingAndGlyphs">2024</text>
<text x="309" y="18.7" font-size="12" fill="#363a45" textLength="27.00" lengthAdjust="spacingAndGlyphs">05:35</text>
<text x="339.6" y="18.7" font-size="12" fill="#363a45" textLength="19.50" lengthAdjust="spacingAndGlyphs">UTC</text>
<text x="17.8" y="44.1" font-size="10.8" fill="#363a45" textLength="35.95" lengthAdjust="spacingAndGlyphs">Natural</text>
<text x="57.7" y="44.1" font-size="10.8" fill="#363a45" textLength="21.05" lengthAdjust="spacingAndGlyphs">Gas,</text>
<text x="83.1" y="44.1" font-size="10.8" fill="#363a45" textLength="15.20" lengthAdjust="spacingAndGlyphs">4h,</text>
<text x="103" y="44.1" font-size="10.8" fill="#363a45" textLength="61.70" lengthAdjust="spacingAndGlyphs">CAPITALCOM</text>
<text x="172.5" y="44.1" font-size="10.8" fill="#363a45" textLength="7.50" lengthAdjust="spacingAndGlyphs">O</text>
<text x="220.6" y="44.1" font-size="10.8" fill="#363a45" textLength="6.60" lengthAdjust="spacingAndGlyphs">H</text>
<text x="268.1" y="44.1" font-size="10.8" fill="#363a45" textLength="4.70" lengthAdjust="spacingAndGlyphs">L</text>
<text x="313.75" y="44.1" font-size="10.8" fill="#363a45" textLength="5.75" lengthAdjust="spacingAndGlyphs">C</text>
<text x="181.6" y="44.1" font-size="10.8" fill="#f23645" textLength="31.20" lengthAdjust="spacingAndGlyphs">1.7740</text>
<text x="228.75" y="44.1" font-size="10.8" fill="#f23645" textLength="30.95" lengthAdjust="spacingAndGlyphs">1.7760</text>
<text x="274" y="44.1" font-size="10.8" fill="#f23645" textLength="32.10" lengthAdjust="spacingAndGlyphs">1.7640</text>
<text x="321.4" y="44.1" font-size="10.8" fill="#f23645" textLength="31.40" lengthAdjust="spacingAndGlyphs">1.7720</text>
<text x="361.4" y="44.1" font-size="10.8" fill="#f23645" textLength="37.35" lengthAdjust="spacingAndGlyphs">−0.0010</text>
<text x="403.9" y="44.1" font-size="10.8" fill="#f23645" textLength="41.40" lengthAdjust="spacingAndGlyphs">(−0.06%)</text>
<text x="17.8" y="59.4" font-size="10.8" fill="#363a45" textLength="13.80" lengthAdjust="spacingAndGlyphs">Vol</text>
<text x="40" y="59.4" font-size="10.8" fill="#f23645" textLength="16.40" lengthAdjust="spacingAndGlyphs">176</text>
<g fill="#131722"><path d="M9.9 622.05 H16.9 V630.8 H13 V625.4 H9.9 Z"/><circle cx="19.9" cy="623.8" r="1.85"/><path d="M24 622.05 H27.7 L24.2 630.8 H20.3 Z"/></g>
<text x="31.5" y="630.7" font-size="11.2" fill="#2f333e" textLength="65.20" lengthAdjust="spacingAndGlyphs">TradingView</text>
</g>
</svg></body></html>
